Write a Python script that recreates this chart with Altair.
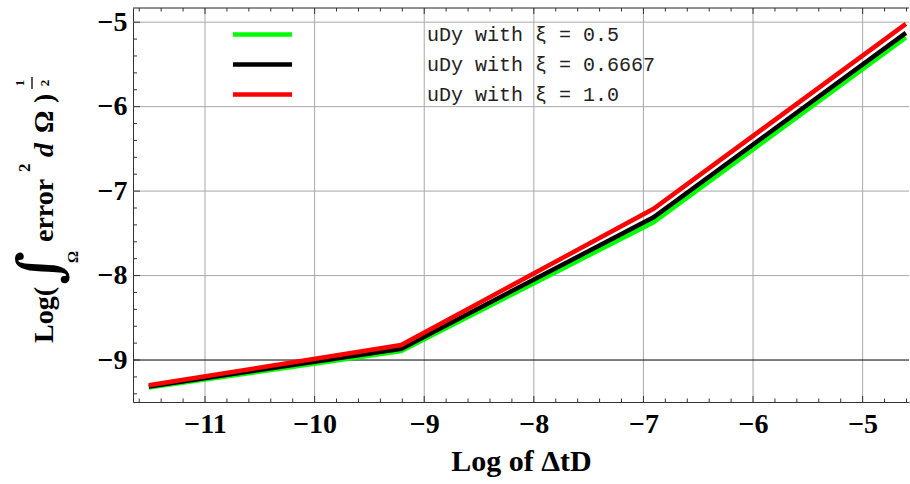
import altair as alt
import pandas as pd

# log of the time step (ΔtD = 1e-5 ... 1e-2)
log_dt = [-11.5129, -9.2103, -6.9078, -4.6052]
# log of the L2 error for each ξ
err_xi_05 = [-9.327, -8.894, -7.37, -5.18]
err_xi_06667 = [-9.315, -8.866, -7.31, -5.126]
err_xi_10 = [-9.299, -8.822, -7.21, -5.02]

series_names = ["uDy with ξ = 0.5", "uDy with ξ = 0.6667", "uDy with ξ = 1.0"]
series_colors = ["#00ff00", "#000000", "#ff0000"]

x_major = [-11, -10, -9, -8, -7, -6, -5]
y_major = [-9, -8, -7, -6, -5]
x_minor = [round(-11.6 + 0.2 * k, 1) for k in range(36)]
y_minor = [round(-9.4 + 0.2 * k, 1) for k in range(23)]

W, H = 776, 394
PAD_L, PAD_T = 133, 8
SERIF = "Liberation Serif"

xs = alt.Scale(domain=[-11.657, -4.577], nice=False, zero=False)
ys = alt.Scale(domain=[-9.497, -4.832], nice=False, zero=False)

x_axis = alt.Axis(values=x_major, ticks=False, grid=False, domainColor="#333333",
                  labelFont=SERIF, labelFontWeight="bold", labelFontSize=28,
                  labelColor="black", labelPadding=8,
                  title="Log of ΔtD", titleFont=SERIF, titleFontWeight="bold",
                  titleFontSize=30, titleColor="black", titlePadding=8)
y_axis = alt.Axis(values=y_major, ticks=False, grid=False, domainColor="#333333",
                  labelFont=SERIF, labelFontWeight="bold", labelFontSize=28,
                  labelColor="black", labelPadding=6, title=None)

X = lambda: alt.X("x:Q", scale=xs, axis=x_axis)
Y = lambda: alt.Y("y:Q", scale=ys, axis=y_axis)

rows = []
for name, vals in zip(series_names, [err_xi_05, err_xi_06667, err_xi_10]):
    for xv, yv in zip(log_dt, vals):
        rows.append({"x": xv, "y": yv, "series": name})
curves = pd.DataFrame(rows)

gx = pd.DataFrame({"x": x_major})
gy = pd.DataFrame({"y": [v for v in y_major if v != -9]})
gy0 = pd.DataFrame({"y": [-9]})
tx_major = pd.DataFrame({"x": x_major})
tx_minor = pd.DataFrame({"x": [v for v in x_minor if v not in x_major]})
ty_major = pd.DataFrame({"y": y_major})
ty_minor = pd.DataFrame({"y": [v for v in y_minor if v not in y_major]})
one = pd.DataFrame({"a": [0]})

grid_x = alt.Chart(gx).mark_rule(color="#a8a8a8", strokeWidth=1).encode(x=X())
grid_y = alt.Chart(gy).mark_rule(color="#a8a8a8", strokeWidth=1).encode(y=Y())
axis_y0 = alt.Chart(gy0).mark_rule(color="black", strokeWidth=1).encode(y=Y())

lines = alt.Chart(curves).mark_line(strokeWidth=4.5).encode(
    x=X(), y=Y(),
    color=alt.Color("series:N",
                    scale=alt.Scale(domain=series_names, range=series_colors),
                    legend=alt.Legend(orient="none", legendX=117, legendY=14,
                                      title=None, padding=0,
                                      symbolType="M -3 0 H 3", symbolSize=388,
                                      symbolStrokeWidth=4.5,
                                      labelFont="Liberation Mono", labelFontSize=20,
                                      labelColor="#222222", labelLimit=0,
                                      labelOffset=152, rowPadding=7)),
)


def tick_x(df, length, top):
    if top:
        return alt.Chart(df).mark_rule(color="#333333").encode(
            x=X(), y=alt.value(0), y2=alt.value(length))
    return alt.Chart(df).mark_rule(color="#333333").encode(
        x=X(), y=alt.value(H), y2=alt.value(H - length))


def tick_y(df, length):
    return alt.Chart(df).mark_rule(color="#333333").encode(
        y=Y(), x=alt.value(0), x2=alt.value(length))


frame_top = alt.Chart(one).mark_rule(color="#222222").encode(
    y=alt.value(0), x=alt.value(0), x2=alt.value(W))


def piece(text, x, y, size, align="left", baseline="alphabetic", style="normal",
          weight="bold", font=SERIF):
    return alt.Chart(one).mark_text(
        text=text, angle=270, align=align, baseline=baseline, font=font,
        fontSize=size, fontWeight=weight, fontStyle=style, color="black",
    ).encode(x=alt.value(x - PAD_L), y=alt.value(y - PAD_T))


frac_bar = alt.Chart(one).mark_rule(color="black", strokeWidth=1.3).encode(
    x=alt.value(32 - PAD_L), y=alt.value(77 - PAD_T), y2=alt.value(89 - PAD_T))

# y-axis title: Log( ∫_Ω error² dΩ )^(1/2), set piece by piece
ytitle = [
    piece("Log(", 53, 343, 28),
    piece("∫", 42, 268, 58, align="center", baseline="middle", font="DejaVu Serif"),
    piece("Ω", 73, 257, 15, align="center", baseline="middle"),
    piece("error", 53, 242, 28),
    piece("2", 30, 172, 17),
    piece("d", 53, 157, 28, style="italic"),
    piece("Ω", 53, 133, 28),
    piece(")", 53, 103, 28),
    piece("1", 20, 83, 13, align="center", baseline="middle"),
    frac_bar,
    piece("2", 45, 83, 13, align="center", baseline="middle"),
]

chart = alt.layer(
    grid_x, grid_y, axis_y0,
    tick_x(tx_major, 6, False), tick_x(tx_minor, 3.5, False),
    tick_x(tx_major, 6, True), tick_x(tx_minor, 3.5, True),
    tick_y(ty_major, 7), tick_y(ty_minor, 4),
    frame_top, lines, *ytitle,
).properties(
    width=W, height=H,
    autosize=alt.AutoSizeParams(type="none"),
    padding={"left": PAD_L, "top": PAD_T, "right": 1, "bottom": 82},
    background="white",
).configure_view(stroke=None)

chart.save("out.html", embed_options={"renderer": "svg", "actions": False})
